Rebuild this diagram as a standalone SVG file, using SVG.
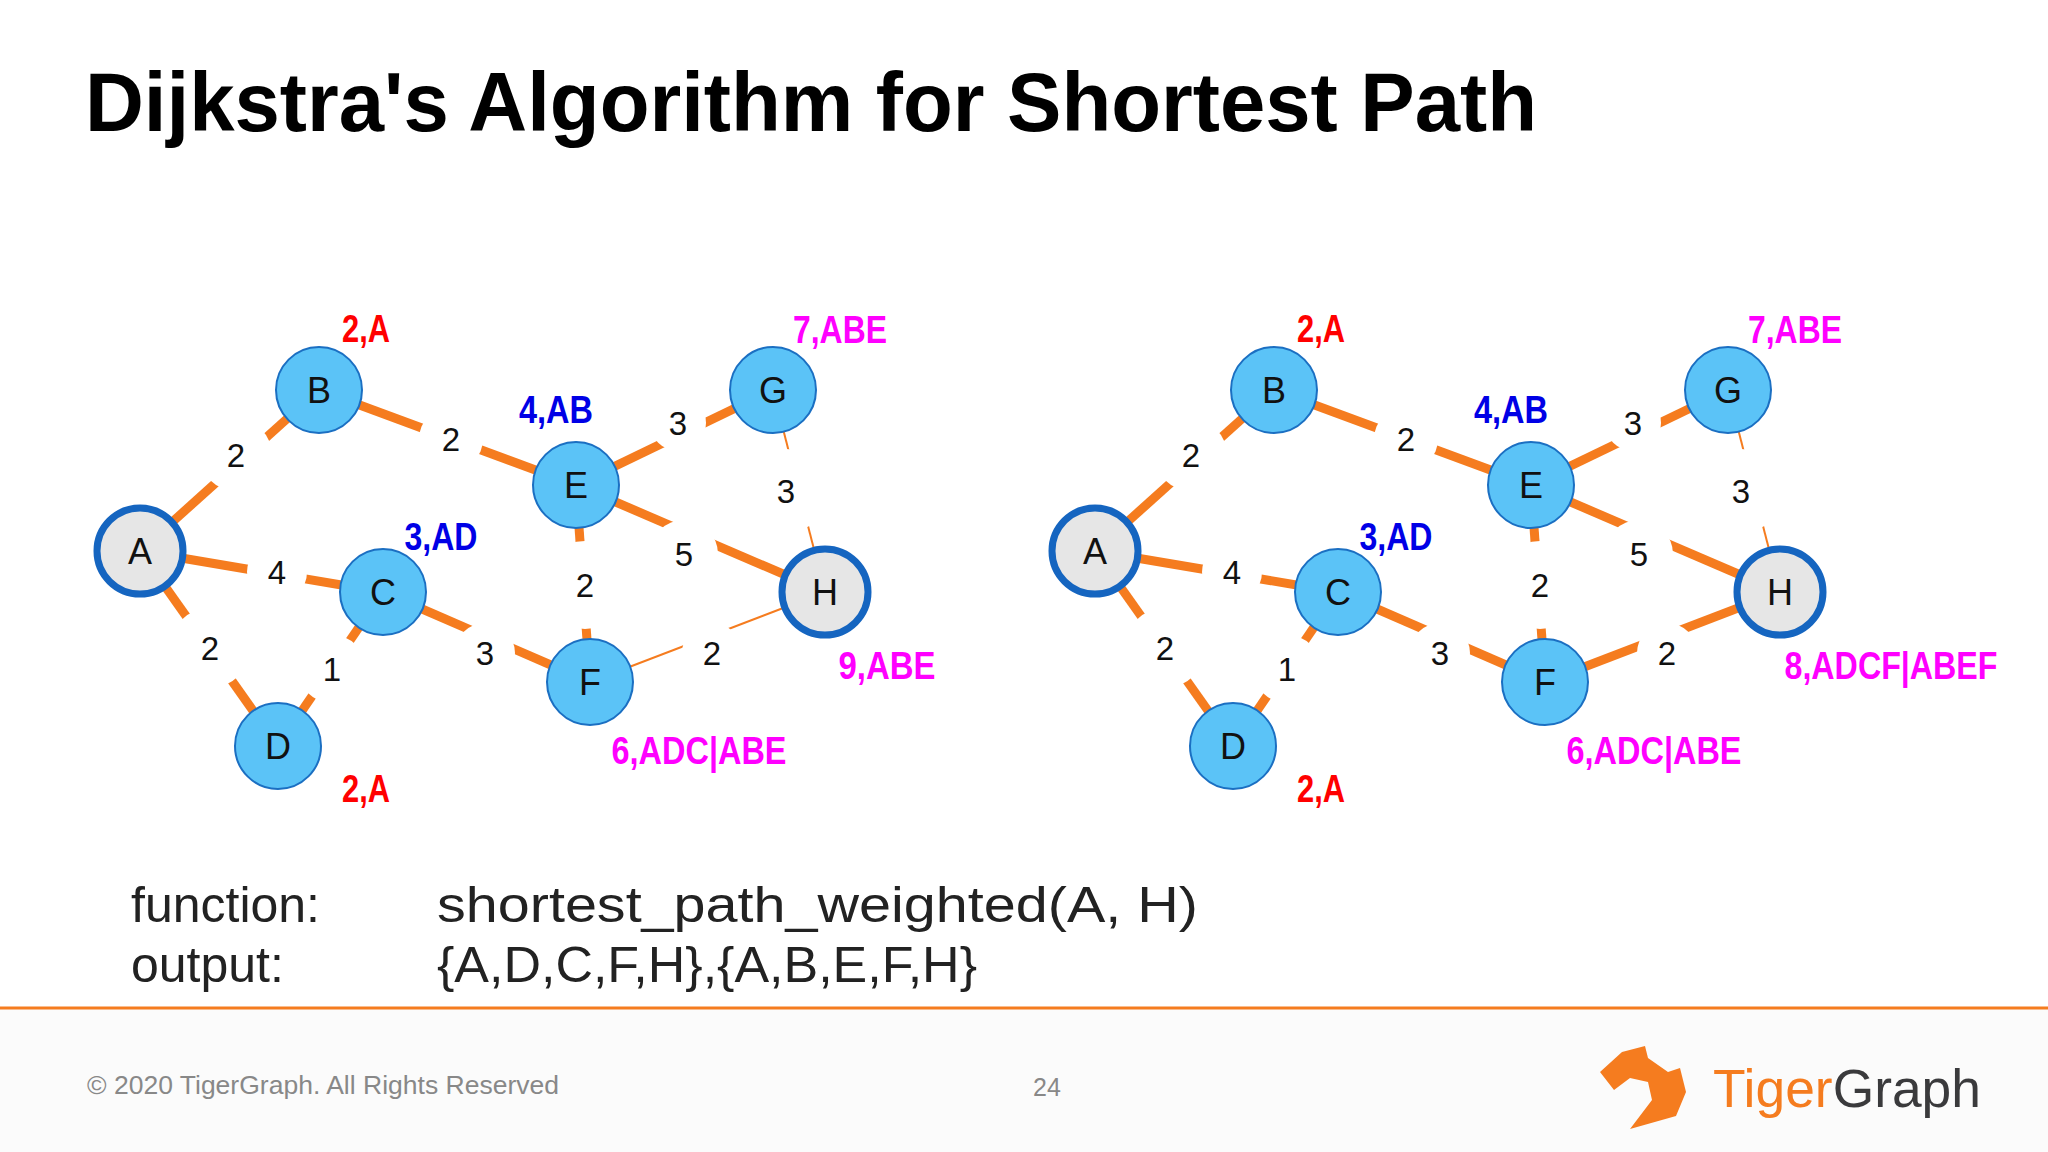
<svg xmlns="http://www.w3.org/2000/svg" width="2048" height="1152" viewBox="0 0 2048 1152">
<style>
.e{stroke:#F57C1F;stroke-width:9;fill:none}
.t{stroke:#F57C1F;stroke-width:2;fill:none}
.gap{fill:#fff}
.n{fill:#5BC3F7;stroke:#1B6FC2;stroke-width:2}
.s{fill:#E6E6E6;stroke:#1565C0;stroke-width:7}
.nl{font-family:"Liberation Sans",Arial,sans-serif;font-size:36px;fill:#111;text-anchor:middle}
.w{font-family:"Liberation Sans",Arial,sans-serif;font-size:33px;fill:#111;text-anchor:middle}
.lb{font-family:"Liberation Sans Narrow","Liberation Sans",Arial,sans-serif;font-weight:bold;font-size:39px;text-anchor:middle}
.r{fill:#FF0000}.b{fill:#0000E6}.m{fill:#FF00FF}
.body{font-family:"Liberation Sans",Arial,sans-serif;font-size:50px;fill:#222}
</style>
<rect width="2048" height="1152" fill="#fff"/>
<rect y="1008" width="2048" height="144" fill="#FBFBFB"/>
<text x="85" y="131" font-family="Liberation Sans,Arial,sans-serif" font-weight="bold" font-size="84" fill="#000" textLength="1452" lengthAdjust="spacingAndGlyphs">Dijkstra's Algorithm for Shortest Path</text>

<g id="connectors">
 <g id="left-edges">
  <line class="e" x1="140" y1="551" x2="319" y2="390"/>
  <line class="e" x1="319" y1="390" x2="576" y2="485"/>
  <line class="e" x1="576" y1="485" x2="773" y2="390"/>
  <line class="t" x1="773" y1="390" x2="825" y2="592"/>
  <line class="e" x1="140" y1="551" x2="383" y2="592"/>
  <line class="e" x1="576" y1="485" x2="825" y2="592"/>
  <line class="e" x1="576" y1="485" x2="590" y2="682"/>
  <line class="e" x1="140" y1="551" x2="278" y2="746"/>
  <line class="e" x1="383" y1="592" x2="278" y2="746"/>
  <line class="e" x1="383" y1="592" x2="590" y2="682"/>
  <line class="t" x1="590" y1="682" x2="825" y2="592"/>
 </g>
 <g id="right-edges" transform="translate(955,0)">
  <line class="e" x1="140" y1="551" x2="319" y2="390"/>
  <line class="e" x1="319" y1="390" x2="576" y2="485"/>
  <line class="e" x1="576" y1="485" x2="773" y2="390"/>
  <line class="t" x1="773" y1="390" x2="825" y2="592"/>
  <line class="e" x1="140" y1="551" x2="383" y2="592"/>
  <line class="e" x1="576" y1="485" x2="825" y2="592"/>
  <line class="e" x1="576" y1="485" x2="590" y2="682"/>
  <line class="e" x1="140" y1="551" x2="278" y2="746"/>
  <line class="e" x1="383" y1="592" x2="278" y2="746"/>
  <line class="e" x1="383" y1="592" x2="590" y2="682"/>
  <line class="e" x1="590" y1="682" x2="825" y2="592"/>
 </g>
 <g id="weights-left">
  <circle class="gap" cx="236" cy="455" r="36"/><text class="w" x="236" y="467">2</text>
  <circle class="gap" cx="451" cy="439" r="32"/><text class="w" x="451" y="451">2</text>
  <circle class="gap" cx="678" cy="423" r="28"/><text class="w" x="678" y="435">3</text>
  <circle class="gap" cx="786" cy="491" r="42"/><text class="w" x="786" y="503">3</text>
  <circle class="gap" cx="277" cy="572" r="30"/><text class="w" x="277" y="584">4</text>
  <circle class="gap" cx="684" cy="554" r="34"/><text class="w" x="684" y="566">5</text>
  <circle class="gap" cx="585" cy="585" r="44"/><text class="w" x="585" y="597">2</text>
  <circle class="gap" cx="210" cy="648" r="40"/><text class="w" x="210" y="660">2</text>
  <circle class="gap" cx="332" cy="669" r="34"/><text class="w" x="332" y="681">1</text>
  <circle class="gap" cx="485" cy="653" r="30"/><text class="w" x="485" y="665">3</text>
  <circle class="gap" cx="712" cy="653" r="30"/><text class="w" x="712" y="665">2</text>
 </g>
 <g id="weights-right" transform="translate(955,0)">
  <circle class="gap" cx="236" cy="455" r="36"/><text class="w" x="236" y="467">2</text>
  <circle class="gap" cx="451" cy="439" r="32"/><text class="w" x="451" y="451">2</text>
  <circle class="gap" cx="678" cy="423" r="28"/><text class="w" x="678" y="435">3</text>
  <circle class="gap" cx="786" cy="491" r="42"/><text class="w" x="786" y="503">3</text>
  <circle class="gap" cx="277" cy="572" r="30"/><text class="w" x="277" y="584">4</text>
  <circle class="gap" cx="684" cy="554" r="34"/><text class="w" x="684" y="566">5</text>
  <circle class="gap" cx="585" cy="585" r="44"/><text class="w" x="585" y="597">2</text>
  <circle class="gap" cx="210" cy="648" r="40"/><text class="w" x="210" y="660">2</text>
  <circle class="gap" cx="332" cy="669" r="34"/><text class="w" x="332" y="681">1</text>
  <circle class="gap" cx="485" cy="653" r="30"/><text class="w" x="485" y="665">3</text>
  <circle class="gap" cx="712" cy="653" r="30"/><text class="w" x="712" y="665">2</text>
 </g>
</g>

<g id="left-graph">
 <g id="L-A"><circle class="s" cx="140" cy="551" r="43"/><text class="nl" x="140" y="564">A</text></g>
 <g id="L-B"><circle class="n" cx="319" cy="390" r="43"/><text class="nl" x="319" y="403">B</text><text class="lb r" x="366" y="342" textLength="48" lengthAdjust="spacingAndGlyphs">2,A</text></g>
 <g id="L-C"><circle class="n" cx="383" cy="592" r="43"/><text class="nl" x="383" y="605">C</text><text class="lb b" x="441" y="550" textLength="73" lengthAdjust="spacingAndGlyphs">3,AD</text></g>
 <g id="L-D"><circle class="n" cx="278" cy="746" r="43"/><text class="nl" x="278" y="759">D</text><text class="lb r" x="366" y="802" textLength="48" lengthAdjust="spacingAndGlyphs">2,A</text></g>
 <g id="L-E"><circle class="n" cx="576" cy="485" r="43"/><text class="nl" x="576" y="498">E</text><text class="lb b" x="556" y="423" textLength="74" lengthAdjust="spacingAndGlyphs">4,AB</text></g>
 <g id="L-F"><circle class="n" cx="590" cy="682" r="43"/><text class="nl" x="590" y="695">F</text><text class="lb m" x="699" y="764" textLength="175" lengthAdjust="spacingAndGlyphs">6,ADC|ABE</text></g>
 <g id="L-G"><circle class="n" cx="773" cy="390" r="43"/><text class="nl" x="773" y="403">G</text><text class="lb m" x="840" y="343" textLength="94" lengthAdjust="spacingAndGlyphs">7,ABE</text></g>
 <g id="L-H"><circle class="s" cx="825" cy="592" r="43"/><text class="nl" x="825" y="605">H</text><text class="lb m" x="887" y="679" textLength="97" lengthAdjust="spacingAndGlyphs">9,ABE</text></g>
</g>
<g id="right-graph" transform="translate(955,0)">
 <g id="R-A"><circle class="s" cx="140" cy="551" r="43"/><text class="nl" x="140" y="564">A</text></g>
 <g id="R-B"><circle class="n" cx="319" cy="390" r="43"/><text class="nl" x="319" y="403">B</text><text class="lb r" x="366" y="342" textLength="48" lengthAdjust="spacingAndGlyphs">2,A</text></g>
 <g id="R-C"><circle class="n" cx="383" cy="592" r="43"/><text class="nl" x="383" y="605">C</text><text class="lb b" x="441" y="550" textLength="73" lengthAdjust="spacingAndGlyphs">3,AD</text></g>
 <g id="R-D"><circle class="n" cx="278" cy="746" r="43"/><text class="nl" x="278" y="759">D</text><text class="lb r" x="366" y="802" textLength="48" lengthAdjust="spacingAndGlyphs">2,A</text></g>
 <g id="R-E"><circle class="n" cx="576" cy="485" r="43"/><text class="nl" x="576" y="498">E</text><text class="lb b" x="556" y="423" textLength="74" lengthAdjust="spacingAndGlyphs">4,AB</text></g>
 <g id="R-F"><circle class="n" cx="590" cy="682" r="43"/><text class="nl" x="590" y="695">F</text><text class="lb m" x="699" y="764" textLength="175" lengthAdjust="spacingAndGlyphs">6,ADC|ABE</text></g>
 <g id="R-G"><circle class="n" cx="773" cy="390" r="43"/><text class="nl" x="773" y="403">G</text><text class="lb m" x="840" y="343" textLength="94" lengthAdjust="spacingAndGlyphs">7,ABE</text></g>
 <g id="R-H"><circle class="s" cx="825" cy="592" r="43"/><text class="nl" x="825" y="605">H</text><text class="lb m" x="936" y="679" textLength="213" lengthAdjust="spacingAndGlyphs">8,ADCF|ABEF</text></g>
</g>

<text class="body" x="131" y="922">function:</text>
<text class="body" x="437" y="922" textLength="761" lengthAdjust="spacingAndGlyphs">shortest_path_weighted(A, H)</text>
<text class="body" x="131" y="982">output:</text>
<text class="body" x="437" y="982" textLength="540" lengthAdjust="spacingAndGlyphs">{A,D,C,F,H},{A,B,E,F,H}</text>
<line x1="0" y1="1008" x2="2048" y2="1008" stroke="#F57C1F" stroke-width="3"/>
<text x="87" y="1094" font-family="Liberation Sans,Arial,sans-serif" font-size="25" fill="#888" textLength="472" lengthAdjust="spacingAndGlyphs">© 2020 TigerGraph. All Rights Reserved</text>
<text x="1047" y="1096" font-family="Liberation Sans,Arial,sans-serif" font-size="25" fill="#888" text-anchor="middle">24</text>
<path d="M1600 1072 L1622 1052 L1645 1046 L1648 1058 L1668 1072 L1680 1068 L1686 1092 L1676 1116 L1630 1129 L1652 1100 L1648 1082 L1630 1078 L1614 1090 Z" fill="#F57C1F"/>
<text x="1713" y="1107" font-family="Liberation Sans,Arial,sans-serif" font-size="54" textLength="268" lengthAdjust="spacingAndGlyphs"><tspan fill="#F57C1F">Tiger</tspan><tspan fill="#3A3A3C">Graph</tspan></text>
</svg>
